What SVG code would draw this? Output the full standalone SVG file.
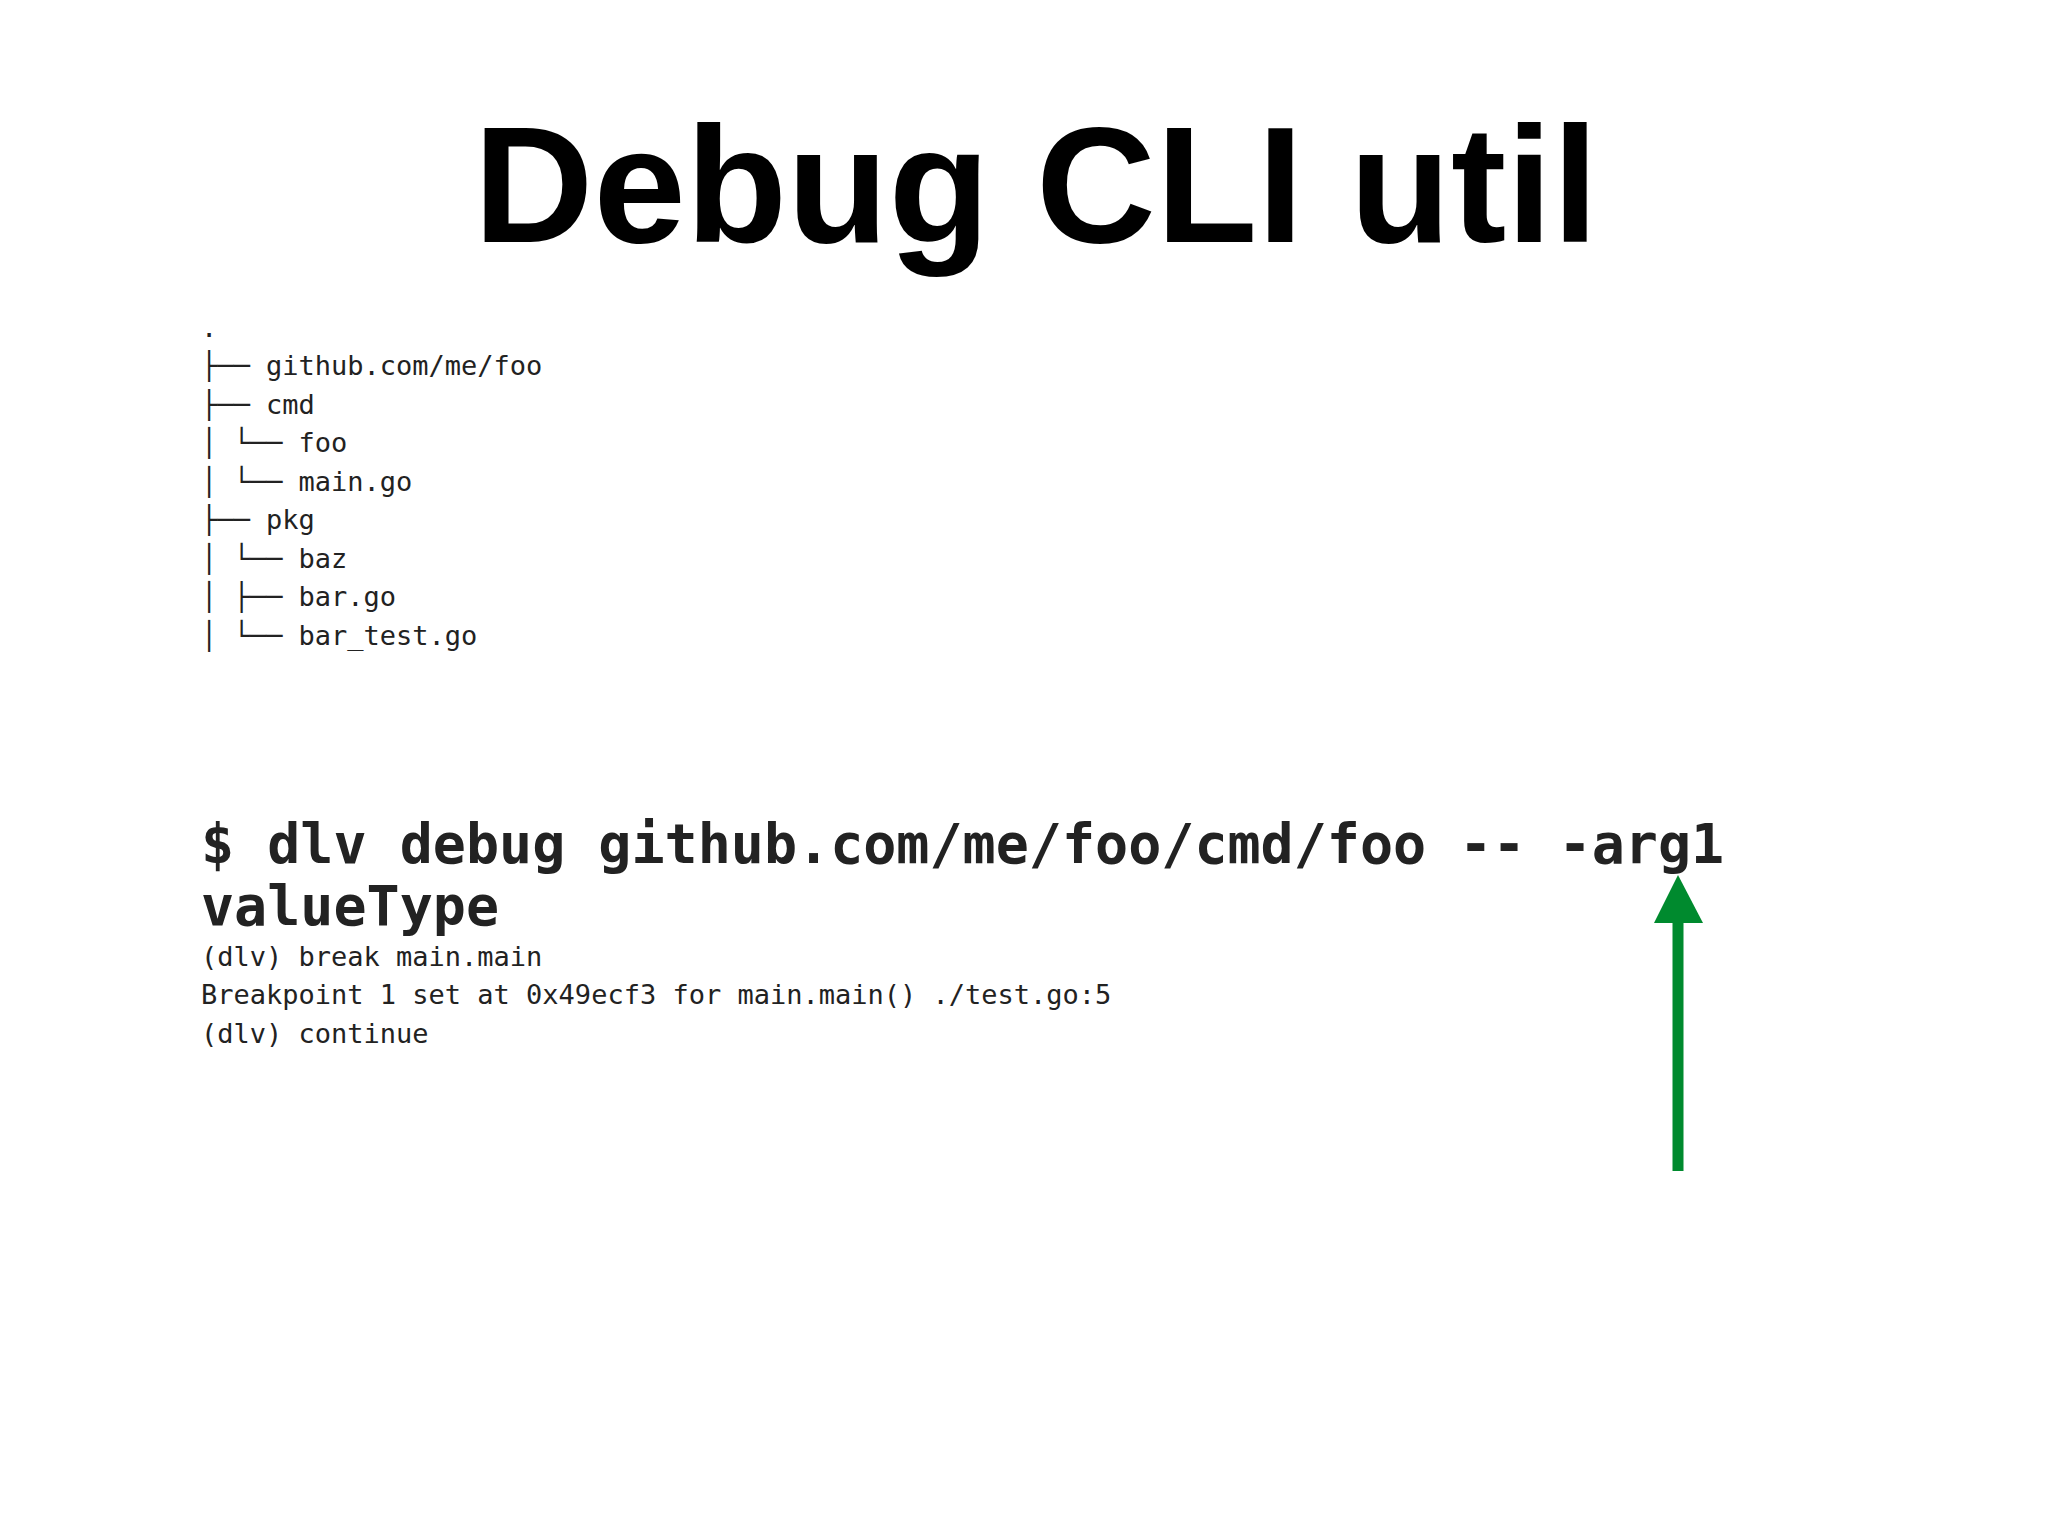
<svg xmlns="http://www.w3.org/2000/svg" width="2048" height="1536" viewBox="0 0 2048 1536">
<style>
.m{font-family:"DejaVu Sans Mono","Liberation Mono",monospace;fill:#222;white-space:pre}
.t{font-size:27px}
.b{font-size:55px;font-weight:bold}
</style>
<rect width="2048" height="1536" fill="#fff"/>
<text x="1036" y="242" text-anchor="middle" font-family="Liberation Sans, Arial, sans-serif" font-weight="bold" font-size="166" fill="#000">Debug CLI util</text>
<g id="tree" class="m t" xml:space="preserve">
<text x="201" y="337">.</text>
<text x="201" y="375">├── github.com/me/foo</text>
<text x="201" y="413.5">├── cmd</text>
<text x="201" y="452">│   └── foo</text>
<text x="201" y="490.5">│       └── main.go</text>
<text x="201" y="529">├── pkg</text>
<text x="201" y="567.5">│   └── baz</text>
<text x="201" y="606">│       ├── bar.go</text>
<text x="201" y="644.5">│       └── bar_test.go</text>
</g>
<g id="cmd" class="m" xml:space="preserve">
<text class="b" x="201" y="863">$ dlv debug github.com/me/foo/cmd/foo -- -arg1</text>
<text class="b" x="201" y="925">valueType</text>
<text class="t" x="201" y="966">(dlv) break main.main</text>
<text class="t" x="201" y="1004">Breakpoint 1 set at 0x49ecf3 for main.main() ./test.go:5</text>
<text class="t" x="201" y="1043">(dlv) continue</text>
</g>
<g id="connectors">
<line x1="1678" y1="1171" x2="1678" y2="915" stroke="#008a2e" stroke-width="11"/>
<polygon points="1678,875 1703,923 1654,923" fill="#008a2e"/>
</g>
</svg>
